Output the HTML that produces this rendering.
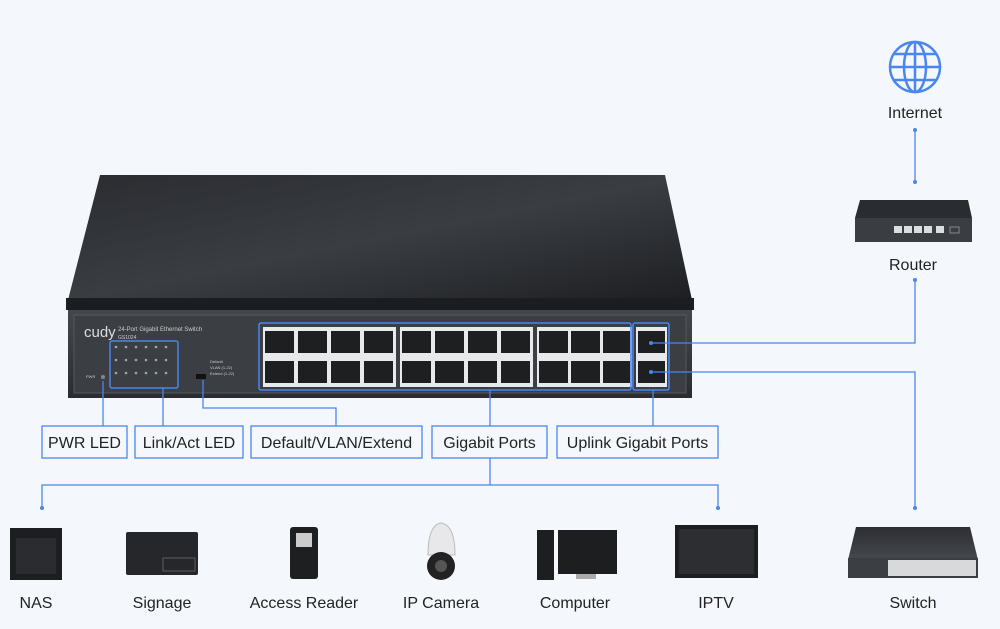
<!DOCTYPE html>
<html><head><meta charset="utf-8"><style>
html,body{margin:0;padding:0;background:#f4f7fb;}
svg{display:block}
text{font-family:"Liberation Sans",sans-serif;fill:#222;}
</style></head><body>
<svg width="1000" height="629" viewBox="0 0 1000 629" xmlns="http://www.w3.org/2000/svg">
<defs>
<linearGradient id="top" x1="0" y1="0" x2="1" y2="1"><stop offset="0" stop-color="#2a2c30"/><stop offset="0.5" stop-color="#3a3d42"/><stop offset="1" stop-color="#1d1f22"/></linearGradient>
<linearGradient id="front" x1="0" y1="0" x2="0" y2="1"><stop offset="0" stop-color="#44474c"/><stop offset="1" stop-color="#2a2c30"/></linearGradient>
<linearGradient id="sw" x1="0" y1="0" x2="0" y2="1"><stop offset="0" stop-color="#2c2e32"/><stop offset="1" stop-color="#45484d"/></linearGradient>
</defs>
<rect width="1000" height="629" fill="#f4f7fb"/>
<!-- main switch -->
<polygon points="100,175 665,175 692,300 68,300" fill="url(#top)"/>
<rect x="66" y="298" width="628" height="12" fill="#1c1d20"/>
<rect x="68" y="310" width="624" height="88" fill="url(#front)"/>
<rect x="74" y="315" width="612" height="78" fill="#3b3e43" stroke="#55585d"/>
<text x="84" y="337" font-size="15" style="fill:#ddd">cudy</text>
<text x="118" y="331" font-size="6" style="fill:#ccc">24-Port Gigabit Ethernet Switch</text>
<text x="118" y="339" font-size="5" style="fill:#ccc">GS1024</text>
<text x="86" y="378" font-size="4" style="fill:#ccc">PWR</text>
<circle cx="103" cy="377" r="2" fill="#888"/>
<g fill="#9aa">
<circle cx="116" cy="347" r="1.3"/><circle cx="126" cy="347" r="1.3"/><circle cx="136" cy="347" r="1.3"/><circle cx="146" cy="347" r="1.3"/><circle cx="156" cy="347" r="1.3"/><circle cx="166" cy="347" r="1.3"/>
<circle cx="116" cy="360" r="1.3"/><circle cx="126" cy="360" r="1.3"/><circle cx="136" cy="360" r="1.3"/><circle cx="146" cy="360" r="1.3"/><circle cx="156" cy="360" r="1.3"/><circle cx="166" cy="360" r="1.3"/>
<circle cx="116" cy="373" r="1.3"/><circle cx="126" cy="373" r="1.3"/><circle cx="136" cy="373" r="1.3"/><circle cx="146" cy="373" r="1.3"/><circle cx="156" cy="373" r="1.3"/><circle cx="166" cy="373" r="1.3"/>
</g>
<rect x="196" y="374" width="10" height="5" fill="#111"/>
<text x="210" y="363" font-size="4" style="fill:#ccc">Default</text>
<text x="210" y="369" font-size="4" style="fill:#ccc">VLAN (1-22)</text>
<text x="210" y="375" font-size="4" style="fill:#ccc">Extend (1-22)</text>
<!-- port panels -->
<rect x="263" y="327" width="133" height="60" fill="#e8e9eb"/>
<rect x="400" y="327" width="133" height="60" fill="#e8e9eb"/>
<rect x="537" y="327" width="95" height="60" fill="#e8e9eb"/>
<rect x="636" y="327" width="31" height="60" fill="#e8e9eb"/>
<g fill="#1e1f21">
<rect x="265" y="331" width="29" height="22"/><rect x="298" y="331" width="29" height="22"/><rect x="331" y="331" width="29" height="22"/><rect x="364" y="331" width="29" height="22"/>
<rect x="402" y="331" width="29" height="22"/><rect x="435" y="331" width="29" height="22"/><rect x="468" y="331" width="29" height="22"/><rect x="501" y="331" width="29" height="22"/>
<rect x="539" y="331" width="29" height="22"/><rect x="571" y="331" width="29" height="22"/><rect x="603" y="331" width="27" height="22"/>
<rect x="638" y="331" width="27" height="22"/>
<rect x="265" y="361" width="29" height="22"/><rect x="298" y="361" width="29" height="22"/><rect x="331" y="361" width="29" height="22"/><rect x="364" y="361" width="29" height="22"/>
<rect x="402" y="361" width="29" height="22"/><rect x="435" y="361" width="29" height="22"/><rect x="468" y="361" width="29" height="22"/><rect x="501" y="361" width="29" height="22"/>
<rect x="539" y="361" width="29" height="22"/><rect x="571" y="361" width="29" height="22"/><rect x="603" y="361" width="27" height="22"/>
<rect x="638" y="361" width="27" height="22"/>
</g>
<!-- blue highlight boxes -->
<g fill="none" stroke="#4a86f0" stroke-width="1.5">
<rect x="110" y="341" width="68" height="47" rx="2"/>
<rect x="259" y="323" width="372" height="67" rx="2"/>
<rect x="633" y="323" width="36" height="67" rx="2"/>
</g>
<!-- connectors -->
<g fill="none" stroke="#4a86f0" stroke-width="1.3">
<path d="M103,381 V426"/>
<path d="M163,388 V426"/>
<path d="M203,380 V408 H336 V426"/>
<path d="M490,390 V426"/>
<path d="M653,390 V426"/>
<path d="M490,458 V485 M42,508 V485 H718 V508"/>
<path d="M651,343 H915 V280"/>
<path d="M651,372 H915 V508"/>
<path d="M915,130 V182"/>
</g>
<g fill="#4a86f0">
<circle cx="42" cy="508" r="2"/><circle cx="718" cy="508" r="2"/><circle cx="915" cy="508" r="2"/>
<circle cx="915" cy="130" r="2"/><circle cx="915" cy="182" r="2"/><circle cx="915" cy="280" r="2"/>
<circle cx="651" cy="343" r="2"/><circle cx="651" cy="372" r="2"/>
</g>
<!-- label boxes -->
<g fill="#f4f7fb" stroke="#4a86f0" stroke-width="1.3">
<rect x="42" y="426" width="85" height="32"/>
<rect x="135" y="426" width="108" height="32"/>
<rect x="251" y="426" width="171" height="32"/>
<rect x="432" y="426" width="115" height="32"/>
<rect x="557" y="426" width="161" height="32"/>
</g>
<g font-size="16" text-anchor="middle">
<text x="84.5" y="448">PWR LED</text>
<text x="189" y="448">Link/Act LED</text>
<text x="336.5" y="448">Default/VLAN/Extend</text>
<text x="489.5" y="448">Gigabit Ports</text>
<text x="637.5" y="448">Uplink Gigabit Ports</text>
</g>
<!-- globe -->
<g fill="none" stroke="#4a86f0" stroke-width="2.5">
<circle cx="915" cy="67" r="25"/>
<ellipse cx="915" cy="67" rx="11" ry="25"/>
<path d="M915,42 V92 M890,67 H940 M894,54 H936 M894,80 H936"/>
</g>
<text x="915" y="118" font-size="16" text-anchor="middle">Internet</text>
<!-- router -->
<polygon points="860,200 968,200 972,218 855,218" fill="#2a2c30"/>
<rect x="855" y="218" width="117" height="24" fill="#3a3d42"/>
<g fill="#ddd"><rect x="894" y="226" width="8" height="7"/><rect x="904" y="226" width="8" height="7"/><rect x="914" y="226" width="8" height="7"/><rect x="924" y="226" width="8" height="7"/><rect x="936" y="226" width="8" height="7"/></g>
<rect x="950" y="227" width="9" height="6" fill="none" stroke="#888"/>
<text x="913" y="270" font-size="16" text-anchor="middle">Router</text>
<!-- bottom switch -->
<polygon points="856,527 970,527 978,560 848,560" fill="url(#sw)"/>
<rect x="848" y="558" width="130" height="20" fill="#3b3e43"/>
<rect x="888" y="560" width="88" height="16" fill="#d8d9db"/>
<!-- NAS -->
<rect x="10" y="528" width="52" height="52" fill="#1d1e20"/>
<rect x="16" y="538" width="40" height="36" fill="#2b2c2f"/>
<!-- signage -->
<rect x="126" y="532" width="72" height="43" rx="2" fill="#26272a"/>
<rect x="163" y="558" width="32" height="13" fill="none" stroke="#777" stroke-width="0.7"/>
<!-- access reader -->
<rect x="290" y="527" width="28" height="52" rx="3" fill="#1e1f21"/>
<rect x="296" y="533" width="16" height="14" fill="#ccc"/>
<!-- camera -->
<path d="M428,555 Q428,525 441,523 Q455,525 455,555 Z" fill="#e8e8ea" stroke="#bbb"/>
<circle cx="441" cy="566" r="14" fill="#222"/>
<circle cx="441" cy="566" r="6" fill="#555"/>
<!-- computer -->
<rect x="537" y="530" width="17" height="50" fill="#1d1e20"/>
<rect x="558" y="530" width="59" height="44" fill="#1d1e20"/>
<rect x="576" y="574" width="20" height="5" fill="#aaa"/>
<!-- IPTV -->
<rect x="675" y="525" width="83" height="53" fill="#1d1e20"/>
<rect x="679" y="529" width="75" height="45" fill="#2d2e31"/>
<g font-size="16" text-anchor="middle">
<text x="36" y="608">NAS</text>
<text x="162" y="608">Signage</text>
<text x="304" y="608">Access Reader</text>
<text x="441" y="608">IP Camera</text>
<text x="575" y="608">Computer</text>
<text x="716" y="608">IPTV</text>
<text x="913" y="608">Switch</text>
</g>
</svg>
</body></html>
